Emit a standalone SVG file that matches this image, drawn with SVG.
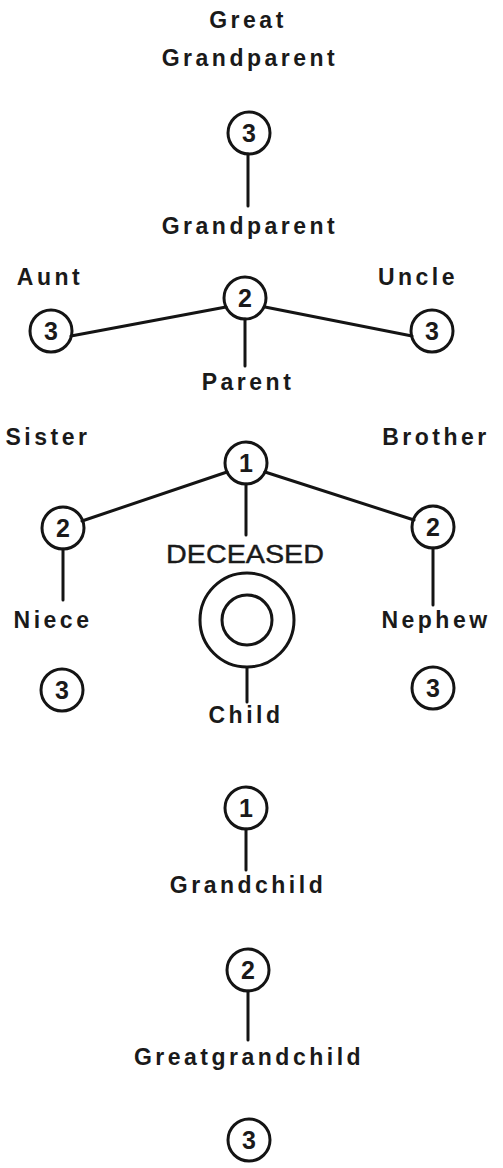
<svg xmlns="http://www.w3.org/2000/svg" width="503" height="1168" viewBox="0 0 503 1168">
<style>
.lbl{font-family:"Liberation Sans",Arial,sans-serif;font-weight:bold;font-size:23px;fill:#1a1a1a;text-anchor:middle;letter-spacing:3.5px}
.dec{font-family:"Liberation Sans",Arial,sans-serif;font-size:26px;fill:#1a1a1a;text-anchor:middle;stroke:#1a1a1a;stroke-width:0.4}
.num{font-family:"Liberation Sans",Arial,sans-serif;font-weight:bold;font-size:25px;fill:#1a1a1a;text-anchor:middle}
.ring{fill:none;stroke:#141414;stroke-width:3}
.conn line{stroke:#141414;stroke-width:3;stroke-linecap:round}
</style>
<rect width="503" height="1168" fill="#ffffff"/>
<g class="conn" id="connectors">
<line x1="248" y1="154" x2="248" y2="206"/>
<line x1="226" y1="307" x2="71" y2="336"/>
<line x1="265" y1="307" x2="412" y2="336"/>
<line x1="245" y1="319" x2="245" y2="366"/>
<line x1="227" y1="472" x2="82" y2="521"/>
<line x1="265" y1="472" x2="414" y2="520"/>
<line x1="246" y1="484" x2="246" y2="535"/>
<line x1="63" y1="549" x2="63" y2="600"/>
<line x1="433" y1="548" x2="433" y2="605"/>
<line x1="247" y1="668" x2="247" y2="702"/>
<line x1="246" y1="829" x2="246" y2="870"/>
<line x1="248" y1="991" x2="248" y2="1040"/>
</g>
<g id="great-grandparent">
<text class="lbl" x="248" y="28">Great</text>
<text class="lbl" x="250" y="66">Grandparent</text>
<circle class="ring" cx="249" cy="133" r="21"/>
<text class="num" x="249" y="142">3</text>
</g>
<g id="grandparent">
<text class="lbl" x="250" y="234">Grandparent</text>
<circle class="ring" cx="245" cy="298" r="21"/>
<text class="num" x="245" y="307">2</text>
</g>
<g id="aunt">
<text class="lbl" x="50" y="285">Aunt</text>
<circle class="ring" cx="51" cy="331" r="21"/>
<text class="num" x="51" y="340">3</text>
</g>
<g id="uncle">
<text class="lbl" x="418" y="285">Uncle</text>
<circle class="ring" cx="432" cy="331" r="21"/>
<text class="num" x="432" y="340">3</text>
</g>
<g id="parent">
<text class="lbl" x="248" y="390">Parent</text>
<circle class="ring" cx="246" cy="463" r="21"/>
<text class="num" x="246" y="472">1</text>
</g>
<g id="sister">
<text class="lbl" x="48" y="445">Sister</text>
<circle class="ring" cx="63" cy="528" r="21"/>
<text class="num" x="63" y="537">2</text>
</g>
<g id="brother">
<text class="lbl" x="436" y="445">Brother</text>
<circle class="ring" cx="433" cy="527" r="21"/>
<text class="num" x="433" y="536">2</text>
</g>
<g id="deceased">
<text class="dec" x="245" y="563" textLength="158" lengthAdjust="spacingAndGlyphs">DECEASED</text>
<circle class="ring" cx="247" cy="620" r="47"/>
<circle class="ring" cx="247" cy="620" r="25"/>
</g>
<g id="niece">
<text class="lbl" x="53" y="628">Niece</text>
<circle class="ring" cx="62" cy="690" r="21"/>
<text class="num" x="62" y="699">3</text>
</g>
<g id="nephew">
<text class="lbl" x="436" y="628">Nephew</text>
<circle class="ring" cx="433" cy="688" r="21"/>
<text class="num" x="433" y="697">3</text>
</g>
<g id="child">
<text class="lbl" x="246" y="723">Child</text>
<circle class="ring" cx="246" cy="808" r="21"/>
<text class="num" x="246" y="817">1</text>
</g>
<g id="grandchild">
<text class="lbl" x="248" y="893">Grandchild</text>
<circle class="ring" cx="248" cy="970" r="21"/>
<text class="num" x="248" y="979">2</text>
</g>
<g id="greatgrandchild">
<text class="lbl" x="249" y="1065">Greatgrandchild</text>
<circle class="ring" cx="249" cy="1140" r="21"/>
<text class="num" x="249" y="1149">3</text>
</g>
</svg>
